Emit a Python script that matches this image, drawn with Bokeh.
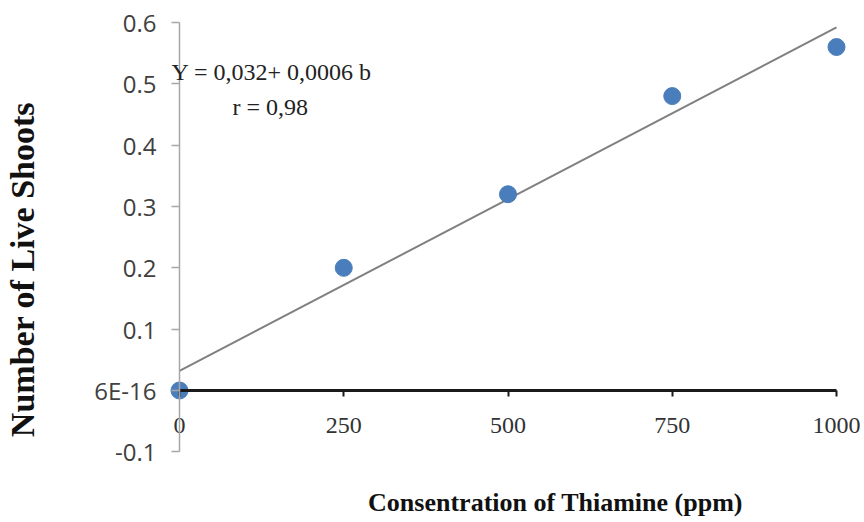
import math
import numpy as np
from bokeh.plotting import figure
from bokeh.models import Range1d, Label, FixedTicker
from bokeh.embed import file_html
from bokeh.resources import INLINE

# ---- data ----
conc = [0, 250, 500, 750, 1000]
shoots = [0.0, 0.20, 0.32, 0.48, 0.56]
x_ticks = [0, 250, 500, 750, 1000]
y_ticks = [-0.1, 0.0, 0.1, 0.2, 0.3, 0.4, 0.5, 0.6]
y_tick_labels = ["-0.1", "6E-16", "0.1", "0.2", "0.3", "0.4", "0.5", "0.6"]
equation_text = "Y = 0,032+ 0,0006 b"
r_text = "r = 0,98"
x_title = "Consentration of Thiamine (ppm)"
y_title = "Number of Live Shoots"

slope, intercept = np.polyfit(conc, shoots, 1)
fit_x = np.array([min(conc), max(conc)], dtype=float)
fit_y = intercept + slope * fit_x

# ---- layout (frame covers whole canvas; axes are placed at data positions) ----
W, H = 860, 517
ox, oy = 1, 1                      # canvas offset in the page
px_x0, px_x1000 = 180, 837         # page x of x=0 and x=1000
px_y06, px_y0 = 23, 391            # page y of y=0.6 and y=0
kx = (px_x1000 - px_x0) / 1000.0
ky = (px_y0 - px_y06) / 0.6
x_start = -(px_x0 - ox) / kx
x_end = x_start + W / kx
y_end = 0.6 + (px_y06 - oy) / ky
y_start = y_end - H / ky

def dx(px):
    return (px - px_x0) / kx

def dy(py):
    return (px_y0 - py) / ky

p = figure(width=W, height=H, output_backend="svg", toolbar_location=None,
           x_range=Range1d(x_start, x_end), y_range=Range1d(y_start, y_end),
           background_fill_color="white", border_fill_color="white")
p.min_border = 0
p.outline_line_color = None
p.grid.visible = False

# y axis at x = 0
ya = p.yaxis[0]
ya.fixed_location = 0
ya.bounds = (min(y_ticks), max(y_ticks))
ya.ticker = FixedTicker(ticks=y_ticks)
ya.major_label_overrides = {t: l for t, l in zip(y_ticks, y_tick_labels)}
ya.axis_line_color = "#a6a6a6"
ya.axis_line_width = 1.5
ya.major_tick_line_color = "#a6a6a6"
ya.major_tick_line_width = 1.5
ya.major_tick_out = 8
ya.major_tick_in = 0
ya.minor_tick_line_color = None
ya.major_label_text_font = "Open Sans"
ya.major_label_text_font_size = "24px"
ya.major_label_text_color = "#404040"
ya.major_label_standoff = 15

# x axis at y = 0
xa = p.xaxis[0]
xa.fixed_location = 0
xa.bounds = (min(x_ticks), max(x_ticks))
xa.ticker = FixedTicker(ticks=x_ticks)
xa.axis_line_color = "#1a1a1a"
xa.axis_line_width = 3
xa.major_tick_line_color = "#1a1a1a"
xa.major_tick_line_width = 2
xa.major_tick_out = 6
xa.major_tick_in = 0
xa.minor_tick_line_color = None
xa.major_label_text_font = "Liberation Serif"
xa.major_label_text_font_size = "24px"
xa.major_label_text_color = "#333333"
xa.major_label_standoff = 21

p.line(fit_x, fit_y, line_color="#808080", line_width=2)
p.scatter(conc, shoots, size=17, fill_color="#4a7dbb", line_color="#4a7dbb")

serif = "Liberation Serif"
p.add_layout(Label(x=dx(172), y=dy(72.5), text=equation_text, text_font=serif,
                   text_font_size="24px", text_color="#222222",
                   text_align="left", text_baseline="middle"))
p.add_layout(Label(x=dx(233), y=dy(107), text=r_text, text_font=serif,
                   text_font_size="24px", text_color="#222222",
                   text_align="left", text_baseline="middle"))
p.add_layout(Label(x=dx(556), y=dy(503), text=x_title, text_font=serif,
                   text_font_style="bold", text_font_size="26px", text_color="#111111",
                   text_align="center", text_baseline="middle"))
p.add_layout(Label(x=dx(23), y=dy(270), text=y_title, text_font=serif, angle=math.pi / 2,
                   text_font_style="bold", text_font_size="34px", text_color="#111111",
                   text_align="center", text_baseline="middle"))

open("out.html", "w").write(file_html(p, INLINE))
